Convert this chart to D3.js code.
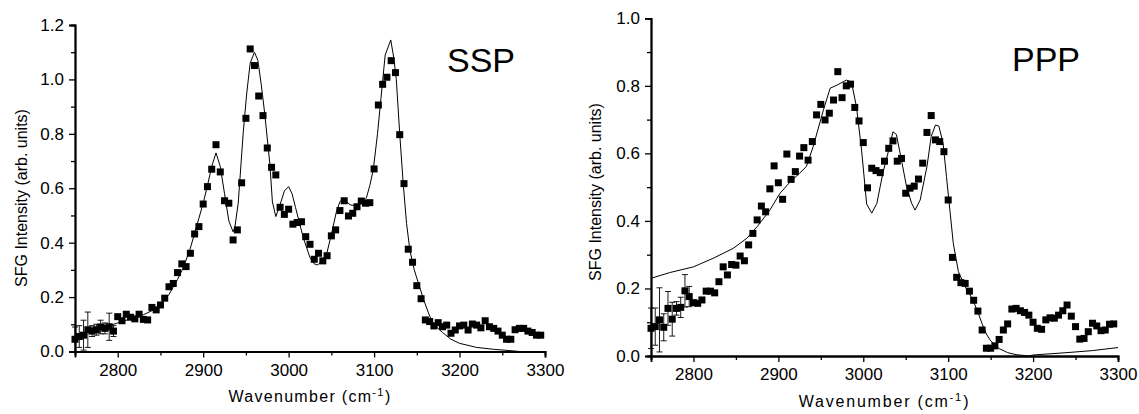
<!DOCTYPE html>
<html><head><meta charset="utf-8">
<script src="https://cdn.jsdelivr.net/npm/d3@7"></script>
<style>
body{margin:0;background:#fff;}
svg{display:block;}
text{font-family:Arial,"Liberation Sans",sans-serif;fill:#000;}
</style></head>
<body><svg id="c" width="1139" height="414"></svg>
<script>
// ---------- DATA ----------
const wavenumbers = [2750,2755,2760,2765,2770,2775,2780,2785,2790,2795,
2800,2805,2810,2815,2820,2825,2830,2835,2840,2845,2850,2855,2860,2865,2870,2875,2880,2885,2890,2895,
2900,2905,2910,2915,2920,2925,2930,2935,2940,2945,2950,2955,2960,2965,2970,2975,2980,2985,2990,2995,
3000,3005,3010,3015,3020,3025,3030,3035,3040,3045,3050,3055,3060,3065,3070,3075,3080,3085,3090,3095,
3100,3105,3110,3115,3120,3125,3130,3135,3140,3145,3150,3155,3160,3165,3170,3175,3180,3185,3190,3195,
3200,3205,3210,3215,3220,3225,3230,3235,3240,3245,3250,3255,3260,3265,3270,3275,3280,3285,3290,3295];

const ssp = [0.045,0.055,0.06,0.08,0.075,0.08,0.09,0.085,0.091,0.075,
0.128,0.113,0.137,0.126,0.12,0.137,0.118,0.116,0.162,0.153,0.171,0.196,0.238,0.25,0.29,0.322,0.312,0.361,0.432,0.459,
0.542,0.606,0.67,0.76,0.66,0.554,0.545,0.41,0.447,0.62,0.857,1.112,1.051,0.939,0.867,0.748,0.677,0.649,0.53,0.504,
0.523,0.468,0.474,0.477,0.422,0.394,0.339,0.361,0.333,0.352,0.425,0.447,0.518,0.554,0.498,0.508,0.532,0.553,0.545,0.547,
0.671,0.906,0.982,1.008,1.069,1.025,0.797,0.617,0.376,0.328,0.242,0.194,0.116,0.11,0.094,0.106,0.091,0.097,0.067,0.079,
0.094,0.097,0.079,0.101,0.097,0.087,0.113,0.091,0.085,0.075,0.06,0.045,0.045,0.08,0.085,0.085,0.075,0.07,0.06,0.06];
const sspErr = [0.045,0.04,0.055,0.065,0.02,0.02,0.025,0.02,0.05,0.02];

const ppp = [0.082,0.087,0.107,0.085,0.141,0.109,0.141,0.144,0.193,0.176,
0.158,0.156,0.166,0.192,0.192,0.187,0.22,0.264,0.24,0.271,0.269,0.296,0.282,0.329,0.363,0.403,0.444,0.427,0.495,0.563,
0.513,0.464,0.598,0.523,0.546,0.592,0.617,0.58,0.635,0.714,0.745,0.699,0.719,0.758,0.842,0.765,0.8,0.805,0.736,0.696,
0.632,0.498,0.556,0.549,0.543,0.577,0.615,0.637,0.577,0.585,0.482,0.497,0.503,0.524,0.571,0.662,0.712,0.64,0.635,0.605,
0.462,0.292,0.233,0.217,0.215,0.192,0.165,0.133,0.077,0.023,0.023,0.03,0.049,0.077,0.095,0.139,0.141,0.134,0.129,0.121,
0.1,0.082,0.079,0.107,0.113,0.112,0.121,0.134,0.151,0.118,0.087,0.05,0.052,0.072,0.097,0.089,0.075,0.077,0.094,0.095];
const pppErr = [0.06,0.055,0.095,0.04,0.05,0.05,0.02,0.03,0.048,0.03];

// fit curves (wavenumber, intensity)
const sspFitX = [2750,2760,2775,2790,2800,2815,2830,2840,2850,2860,2870,2877,2885,2890,2895,2900,2905,2910,2915,2920,2925,2930,2935,2937,2941,2947,2951,2955,2960,2964,2968,2972,2978,2981,2985,2990,2995,3000,3004,3008,3017,3025,3030,3034,3040,3045,3050,3056,3060,3064,3068,3072,3080,3087,3091,3095,3099,3104,3108,3113,3119.5,3123,3126,3130,3134,3138,3142,3147,3152,3158,3165,3170,3180,3190,3200,3220,3240,3260,3270,3300];
const sspFitY = [0.055,0.065,0.08,0.095,0.105,0.12,0.135,0.15,0.172,0.21,0.265,0.31,0.38,0.435,0.49,0.545,0.61,0.68,0.73,0.68,0.58,0.48,0.44,0.455,0.545,0.81,0.95,1.06,1.10,1.07,0.98,0.875,0.69,0.55,0.496,0.54,0.59,0.606,0.58,0.53,0.42,0.345,0.322,0.318,0.335,0.365,0.43,0.515,0.55,0.563,0.55,0.539,0.535,0.55,0.565,0.61,0.667,0.8,0.93,1.09,1.145,1.08,1.0,0.8,0.62,0.47,0.37,0.3,0.25,0.19,0.13,0.1,0.07,0.045,0.03,0.015,0.008,0.003,0.0,0.0];

const pppFitX = [2750,2772,2800,2823,2847,2863,2875,2890,2902,2914,2925,2933,2941,2953,2961,2969,2980,2986,2992,2998,3004,3010,3016,3023,3031,3035,3039,3045,3051,3057,3061,3067,3075,3080,3085,3089,3094,3098,3102,3106,3112,3120,3125,3130,3135,3140,3145,3150,3160,3170,3180,3195,3200,3240,3270,3300];
const pppFitY = [0.23,0.247,0.264,0.289,0.319,0.349,0.383,0.432,0.482,0.516,0.541,0.561,0.62,0.728,0.793,0.802,0.817,0.812,0.738,0.61,0.45,0.423,0.452,0.541,0.62,0.664,0.656,0.58,0.501,0.452,0.432,0.462,0.561,0.65,0.684,0.681,0.63,0.531,0.432,0.334,0.25,0.205,0.185,0.16,0.13,0.095,0.065,0.045,0.022,0.01,0.004,0.0,0.003,0.01,0.016,0.025];

const xTicks = [2800,2900,3000,3100,3200,3300];
const sspYTicks = [0,0.2,0.4,0.6,0.8,1.0,1.2];
const pppYTicks = [0,0.2,0.4,0.6,0.8,1.0];
const panelLabels = ["SSP","PPP"];

// ---------- DRAW ----------
const svg = d3.select("#c");

function panel(o){
  const g = svg.append("g");
  const x = d3.scaleLinear().domain([2750,3300]).range([o.x0,o.x1]);
  const y = d3.scaleLinear().domain([0,o.ymax]).range([o.y0,o.y1]);

  const xMinor = d3.range(2750,3301,50).filter(v=>v%100!==0);
  const yMinor = d3.range(0.1,o.ymax,0.2);
  const xa = g.append("g").attr("transform",`translate(0,${o.y0})`)
    .call(d3.axisBottom(x).tickValues(xMinor).tickSize(4).tickFormat(""));
  const ya = g.append("g").attr("transform",`translate(${o.x0},0)`)
    .call(d3.axisLeft(y).tickValues(yMinor).tickSize(4).tickFormat(""));
  const xb = g.append("g").attr("transform",`translate(0,${o.y0})`)
    .call(d3.axisBottom(x).tickValues(xTicks).tickSize(6).tickPadding(6).tickFormat(d3.format("d")));
  const yb = g.append("g").attr("transform",`translate(${o.x0},0)`)
    .call(d3.axisLeft(y).tickValues(o.yTicks).tickSize(6).tickPadding(5).tickFormat(d3.format(".1f")));
  [xa,ya,xb,yb].forEach(a=>{
    a.selectAll("path").attr("stroke","#000").attr("stroke-width",1.8);
    a.selectAll("line").attr("stroke","#000").attr("stroke-width",1.3);
    a.selectAll("text").style("font-family","Arial, 'Liberation Sans', sans-serif").style("font-size",o.fs+"px").attr("fill","#000");
  });

  const line = d3.line().x(d=>x(d[0])).y(d=>y(d[1]));
  g.append("path").datum(o.fx.map((v,i)=>[v,o.fy[i]]))
    .attr("d",line).attr("fill","none").attr("stroke","#000").attr("stroke-width",1);

  const eb = g.append("g").attr("stroke","#000").attr("stroke-width",0.9);
  o.err.forEach((e,i)=>{
    const cx = x(wavenumbers[i]), v = o.data[i];
    eb.append("line").attr("x1",cx).attr("x2",cx).attr("y1",y(Math.max(0,v-e))).attr("y2",y(v+e));
    eb.append("line").attr("x1",cx-3).attr("x2",cx+3).attr("y1",y(v+e)).attr("y2",y(v+e));
    if(v-e>0) eb.append("line").attr("x1",cx-3).attr("x2",cx+3).attr("y1",y(v-e)).attr("y2",y(v-e));
  });

  const s = 7;
  g.append("g").selectAll("rect").data(o.data).join("rect")
    .attr("x",(d,i)=>x(wavenumbers[i])-s/2).attr("y",d=>y(d)-s/2)
    .attr("width",s).attr("height",s).attr("fill","#000");

  g.append("text").attr("transform",`translate(${o.ytx},${o.ytc}) rotate(-90)`)
    .attr("text-anchor","middle").style("font-size",o.tfs+"px").text("SFG Intensity (arb. units)");
  const xt = g.append("text").attr("x",(o.x0+o.x1)/2).attr("y",o.xty).attr("text-anchor","middle")
    .style("font-size",o.tfs+"px").style("letter-spacing",o.ls+"px");
  xt.append("tspan").text("Wavenumber (cm");
  xt.append("tspan").attr("dy",-6).style("font-size",(o.tfs*0.7)+"px").text("-1");
  xt.append("tspan").attr("dy",6).text(")");
  g.append("text").attr("x",o.lx).attr("y",o.ly).style("font-size","34px").text(o.label);
}

panel({x0:75,x1:545,y0:351.5,y1:25,ymax:1.2,yTicks:sspYTicks,data:ssp,err:sspErr,fx:sspFitX,fy:sspFitY,
  fs:17,tfs:16,ls:1.3,ytx:27,ytc:198,xty:402,lx:447,ly:72,label:panelLabels[0]});
panel({x0:651,x1:1118,y0:356,y1:18.3,ymax:1.0,yTicks:pppYTicks,data:ppp,err:pppErr,fx:pppFitX,fy:pppFitY,
  fs:17,tfs:16,ls:1.8,ytx:601,ytc:192,xty:407,lx:1012,ly:71,label:panelLabels[1]});
</script></body></html>
